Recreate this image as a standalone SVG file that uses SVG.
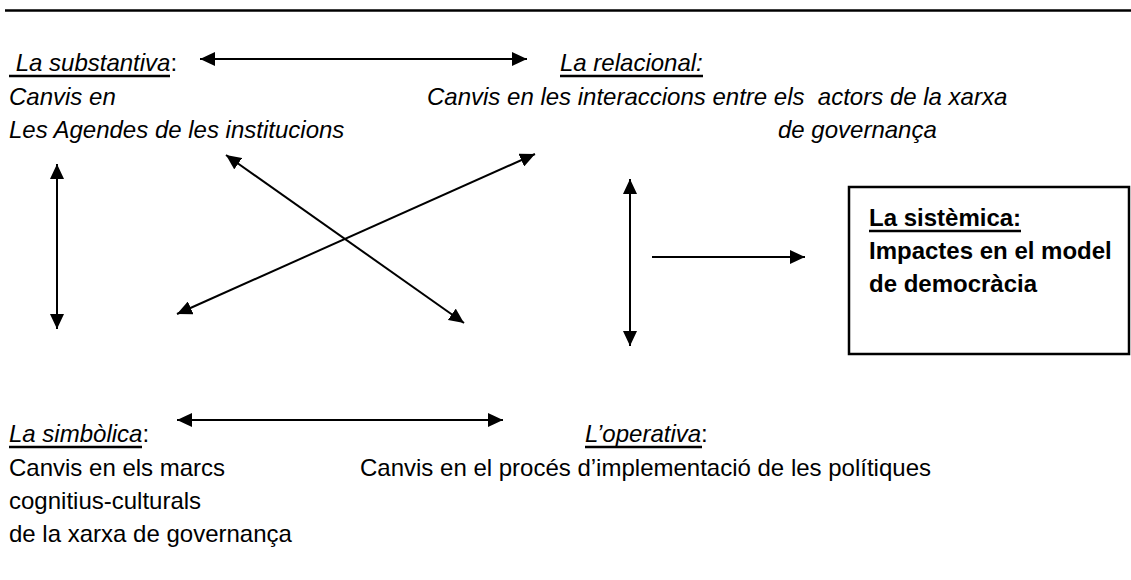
<svg xmlns="http://www.w3.org/2000/svg" width="1131" height="580" viewBox="0 0 1131 580">
<style>
text{font-family:"Liberation Sans",Arial,sans-serif;font-size:24px;fill:#000}
.it{font-style:italic}
.b{font-weight:bold}
.ul{stroke:#000;stroke-width:2.5}
.conn{stroke:#000;stroke-width:2;fill:none}
</style>
<defs>
<marker id="ah" viewBox="0 0 15 14" refX="15" refY="7" markerWidth="15" markerHeight="14" markerUnits="userSpaceOnUse" orient="auto-start-reverse">
<path d="M0,0 L15,7 L0,14 z" fill="#000"/>
</marker>
</defs>
<rect width="1131" height="580" fill="#fff"/>
<line x1="5" y1="10.5" x2="1131" y2="10.5" stroke="#000" stroke-width="2.5"/>

<g id="substantiva">
<text x="9" y="71" class="it" xml:space="preserve"> La substantiva<tspan font-style="normal">:</tspan></text>
<line class="ul" x1="9" y1="76" x2="170" y2="76"/>
<text x="9" y="104.5" class="it">Canvis en</text>
<text x="9" y="138" class="it">Les Agendes de les institucions</text>
</g>

<g id="relacional">
<text x="560" y="71" class="it">La relacional:</text>
<line class="ul" x1="560" y1="76" x2="703" y2="76"/>
<text x="427" y="104.5" class="it" xml:space="preserve">Canvis en les interaccions entre els  actors de la xarxa</text>
<text x="778" y="138" class="it">de governança</text>
</g>

<g id="sistemica">
<rect x="849" y="187" width="280" height="167" fill="none" stroke="#000" stroke-width="2.5"/>
<text x="869" y="226" class="b">La sistèmica:</text>
<line class="ul" x1="869" y1="231" x2="1021" y2="231"/>
<text x="869" y="259" class="b">Impactes en el model</text>
<text x="869" y="292" class="b">de democràcia</text>
</g>

<g id="simbolica">
<text x="9" y="442" class="it">La simbòlica<tspan font-style="normal">:</tspan></text>
<line class="ul" x1="9" y1="447" x2="142" y2="447"/>
<text x="9" y="475.5">Canvis en els marcs</text>
<text x="9" y="509">cognitius-culturals</text>
<text x="9" y="542">de la xarxa de governança</text>
</g>

<g id="operativa">
<text x="585" y="442" class="it">L’operativa<tspan font-style="normal">:</tspan></text>
<line class="ul" x1="585" y1="447" x2="702" y2="447"/>
<text x="360" y="475.5">Canvis en el procés d’implementació de les polítiques</text>
</g>

<g id="connectors">
<line class="conn" x1="200" y1="59" x2="527" y2="59" marker-start="url(#ah)" marker-end="url(#ah)"/>
<line class="conn" x1="57" y1="164" x2="57" y2="329" marker-start="url(#ah)" marker-end="url(#ah)"/>
<line class="conn" x1="226" y1="155" x2="464" y2="323" marker-start="url(#ah)" marker-end="url(#ah)"/>
<line class="conn" x1="535" y1="154" x2="177" y2="314" marker-start="url(#ah)" marker-end="url(#ah)"/>
<line class="conn" x1="630" y1="179" x2="630" y2="346" marker-start="url(#ah)" marker-end="url(#ah)"/>
<line class="conn" x1="652" y1="257" x2="805" y2="257" marker-end="url(#ah)"/>
<line class="conn" x1="177" y1="420" x2="503" y2="420" marker-start="url(#ah)" marker-end="url(#ah)"/>
</g>
</svg>
